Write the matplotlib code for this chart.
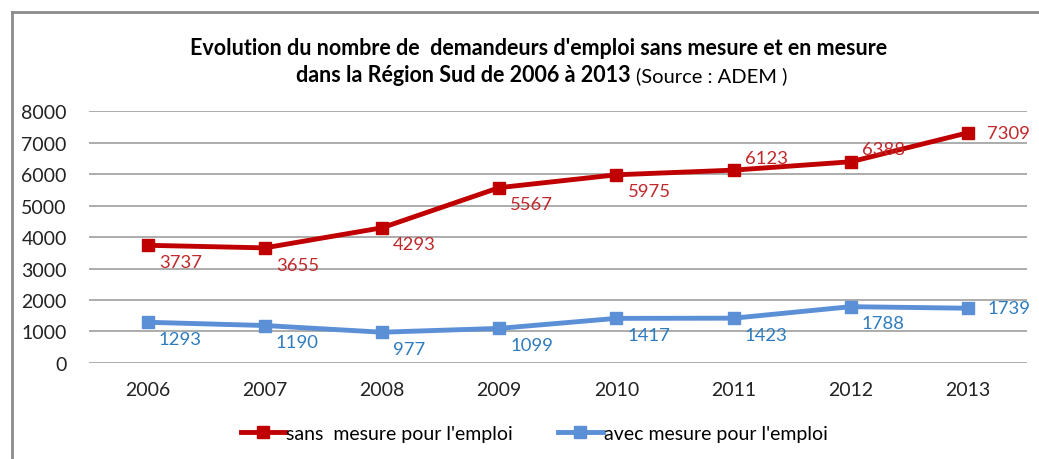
import matplotlib.pyplot as plt
from matplotlib.lines import Line2D

plt.rcParams['font.family'] = ['Lato', 'DejaVu Sans']

annees = ['2006', '2007', '2008', '2009', '2010', '2011', '2012', '2013']
sans_mesure = [3737, 3655, 4293, 5567, 5975, 6123, 6388, 7309]
avec_mesure = [1293, 1190, 977, 1099, 1417, 1423, 1788, 1739]

rouge = '#C00000'
bleu = '#5B8FD6'
rouge_txt = '#C0282B'
bleu_txt = '#2E7CC0'

fig = plt.figure(figsize=(10.39, 4.6), dpi=100)
ax = fig.add_axes([0.0857, 0.2087, 0.9023, 0.5478])

x = list(range(len(annees)))
ax.plot(x, sans_mesure, color=rouge, lw=3.5, marker='s', ms=9,
        label="sans  mesure pour l'emploi")
ax.plot(x, avec_mesure, color=bleu, lw=3.5, marker='s', ms=9,
        label="avec mesure pour l'emploi")

# etiquettes (decalage en points)
off_rouge = [(8, -12)] * 5 + [(8, 9), (8, 9), (14, 0)]
off_bleu = [(8, -12)] * 7 + [(14, 0)]
for i in x:
    dx, dy = off_rouge[i]
    ax.annotate(str(sans_mesure[i]), (i, sans_mesure[i]), xytext=(dx, dy),
                textcoords='offset points', color=rouge_txt, fontsize=13.3,
                ha='left', va='center')
    dx, dy = off_bleu[i]
    ax.annotate(str(avec_mesure[i]), (i, avec_mesure[i]), xytext=(dx, dy),
                textcoords='offset points', color=bleu_txt, fontsize=13.3,
                ha='left', va='center')

ax.set_xlim(-0.5, len(annees) - 0.5)
ax.set_ylim(0, 8000)
ax.set_yticks(range(0, 8001, 1000))
ax.set_xticks(x)
ax.set_xticklabels(annees)
ax.tick_params(length=0, labelsize=14, colors='#222222')
ax.tick_params(axis='x', pad=13)
ax.tick_params(axis='y', pad=16)
ax.yaxis.grid(True, color='#A6A6A6', lw=1.3)
ax.set_axisbelow(True)
for s in ax.spines.values():
    s.set_visible(False)

fig.text(0.518, 0.895, "Evolution du nombre de  demandeurs d'emploi sans mesure et en mesure",
         ha='center', va='center', fontsize=15.5, fontweight='bold')
fig.text(0.607, 0.835, "dans la Région Sud de 2006 à 2013",
         ha='right', va='center', fontsize=15.5, fontweight='bold')
fig.text(0.612, 0.835, "(Source : ADEM )", ha='left', va='center', fontsize=14.5)

fig.legend(loc='center', bbox_to_anchor=(0.514, 0.055), ncol=2, frameon=False,
           fontsize=14, handlelength=2.3, handletextpad=0.05, columnspacing=2.3)

# cadre
fig.add_artist(Line2D([12 / 1039, 12 / 1039], [1 - 13 / 460, 0], color='#8C8C8C', lw=2,
                      transform=fig.transFigure))
fig.add_artist(Line2D([12 / 1039, 1], [1 - 13 / 460, 1 - 13 / 460], color='#8C8C8C', lw=2,
                      transform=fig.transFigure))

fig.savefig('out.png', dpi=100)
